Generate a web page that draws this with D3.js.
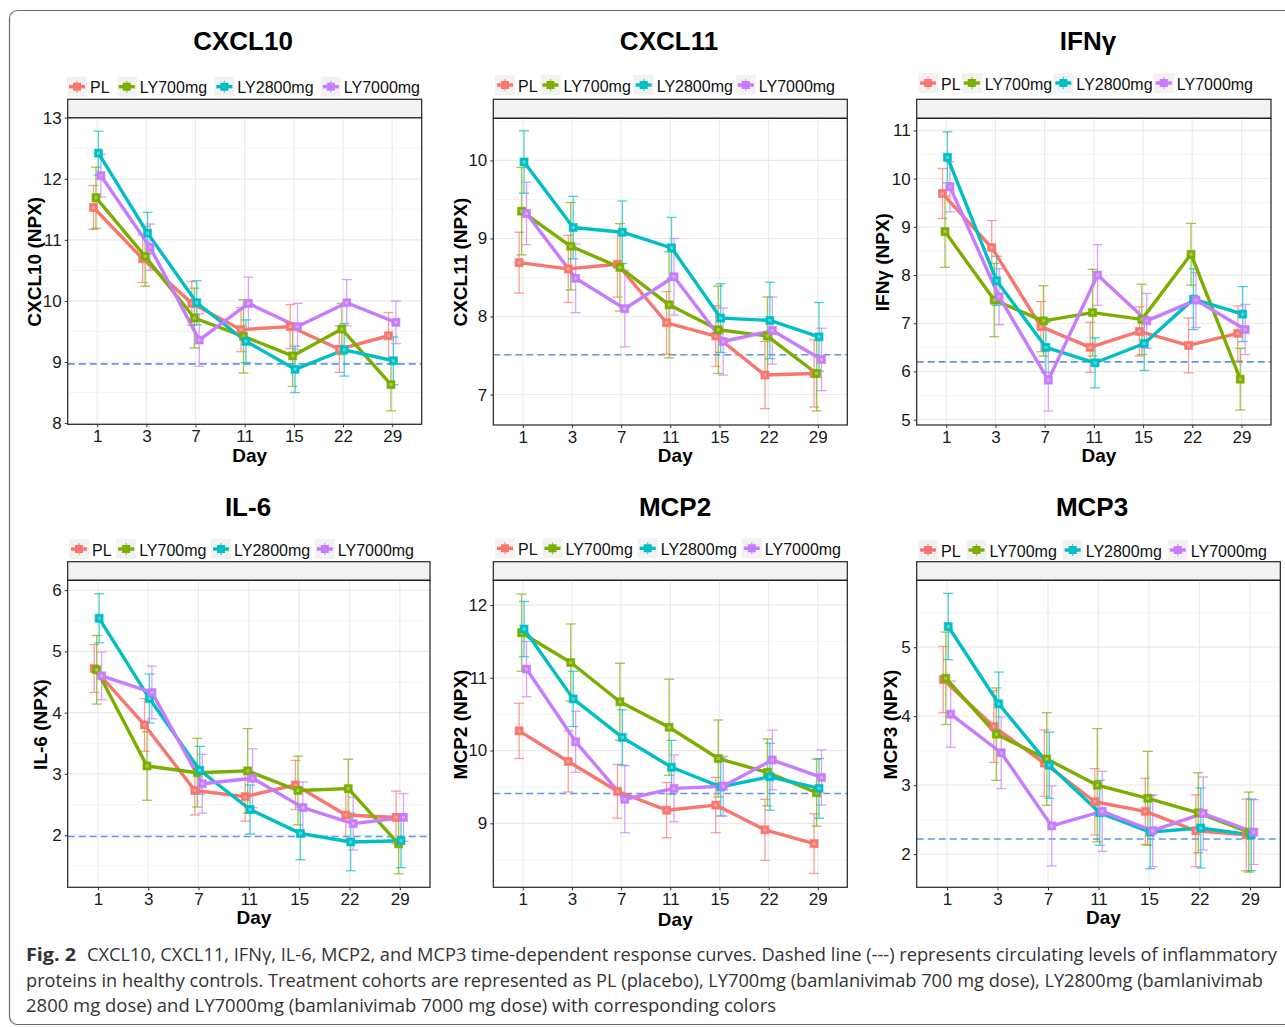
<!DOCTYPE html>
<html>
<head>
<meta charset="utf-8">
<script src="https://cdn.jsdelivr.net/npm/d3@7"></script>
<style>
  body { margin: 0; background: #fff; }
  svg { display: block; font-family: "Liberation Sans", Arial, sans-serif; }
</style>
</head>
<body>
<svg id="chart" width="1285" height="1027"></svg>
<script>
const days = ['1', '3', '7', '11', '15', '22', '29'];
const groups = ['PL', 'LY700mg', 'LY2800mg', 'LY7000mg'];
const groupColors = ['#F8766D', '#7CAE00', '#00BFC4', '#C77CFF'];

// rows: PL, LY700mg, LY2800mg, LY7000mg
const cxcl10Mean = [
    [11.53, 10.69, 9.96, 9.53, 9.58, 9.21, 9.43],
    [11.69, 10.73, 9.72, 9.42, 9.10, 9.54, 8.63],
    [12.42, 11.11, 9.97, 9.34, 8.88, 9.20, 9.02],
    [12.05, 10.88, 9.36, 9.96, 9.58, 9.97, 9.65]];
const cxcl10Err = [
    [0.36, 0.39, 0.36, 0.36, 0.36, 0.38, 0.38],
    [0.50, 0.49, 0.49, 0.60, 0.50, 0.42, 0.43],
    [0.36, 0.34, 0.36, 0.35, 0.38, 0.43, 0.39],
    [0.35, 0.38, 0.43, 0.43, 0.38, 0.38, 0.35]];

const cxcl11Mean = [
    [8.69, 8.61, 8.67, 7.92, 7.75, 7.25, 7.27],
    [9.35, 8.90, 8.63, 8.15, 7.83, 7.75, 7.27],
    [9.98, 9.14, 9.08, 8.88, 7.98, 7.95, 7.74],
    [9.32, 8.49, 8.10, 8.51, 7.68, 7.82, 7.45]];
const cxcl11Err = [
    [0.39, 0.43, 0.42, 0.40, 0.39, 0.43, 0.43],
    [0.56, 0.56, 0.56, 0.68, 0.56, 0.50, 0.48],
    [0.40, 0.40, 0.40, 0.39, 0.44, 0.49, 0.44],
    [0.40, 0.44, 0.49, 0.49, 0.43, 0.43, 0.40]];

const ifngMean = [
    [9.69, 8.57, 6.93, 6.50, 6.83, 6.54, 6.79],
    [8.90, 7.48, 7.05, 7.22, 7.08, 8.43, 5.84],
    [10.44, 7.88, 6.50, 6.18, 6.58, 7.50, 7.19],
    [9.83, 7.55, 5.82, 8.00, 7.05, 7.48, 6.87]];
const ifngErr = [
    [0.52, 0.56, 0.52, 0.52, 0.51, 0.57, 0.57],
    [0.74, 0.76, 0.73, 0.90, 0.73, 0.64, 0.64],
    [0.53, 0.51, 0.52, 0.52, 0.56, 0.63, 0.57],
    [0.52, 0.58, 0.64, 0.63, 0.57, 0.57, 0.52]];

const il6Mean = [
    [4.72, 3.80, 2.73, 2.63, 2.82, 2.33, 2.29],
    [4.70, 3.13, 3.02, 3.05, 2.73, 2.76, 1.86],
    [5.54, 4.23, 3.06, 2.42, 2.03, 1.89, 1.91],
    [4.60, 4.33, 2.84, 2.93, 2.45, 2.19, 2.29]];
const il6Err = [
    [0.39, 0.43, 0.40, 0.40, 0.40, 0.43, 0.43],
    [0.56, 0.56, 0.56, 0.69, 0.56, 0.48, 0.49],
    [0.40, 0.40, 0.39, 0.40, 0.43, 0.47, 0.44],
    [0.39, 0.43, 0.48, 0.48, 0.42, 0.43, 0.39]];

const mcp2Mean = [
    [10.27, 9.85, 9.44, 9.18, 9.25, 8.91, 8.72],
    [11.62, 11.21, 10.67, 10.32, 9.89, 9.70, 9.42],
    [11.67, 10.71, 10.18, 9.77, 9.50, 9.64, 9.48],
    [11.12, 10.12, 9.33, 9.48, 9.51, 9.87, 9.63]];
const mcp2Err = [
    [0.38, 0.42, 0.37, 0.38, 0.38, 0.42, 0.41],
    [0.53, 0.53, 0.53, 0.66, 0.53, 0.46, 0.46],
    [0.38, 0.38, 0.38, 0.37, 0.40, 0.46, 0.41],
    [0.38, 0.42, 0.46, 0.46, 0.41, 0.41, 0.38]];

const mcp3Mean = [
    [4.53, 3.85, 3.32, 2.76, 2.62, 2.34, 2.28],
    [4.55, 3.74, 3.38, 3.00, 2.81, 2.60, 2.32],
    [5.30, 4.18, 3.29, 2.60, 2.32, 2.38, 2.28],
    [4.03, 3.47, 2.41, 2.62, 2.34, 2.59, 2.32]];
const mcp3Err = [
    [0.48, 0.52, 0.48, 0.48, 0.48, 0.52, 0.52],
    [0.67, 0.67, 0.67, 0.82, 0.68, 0.58, 0.58],
    [0.48, 0.46, 0.48, 0.47, 0.53, 0.58, 0.52],
    [0.48, 0.52, 0.58, 0.58, 0.52, 0.53, 0.47]];

const titles = ['CXCL10', 'CXCL11', 'IFNγ', 'IL-6', 'MCP2', 'MCP3'];
const yLabels = ['CXCL10 (NPX)', 'CXCL11 (NPX)', 'IFNγ (NPX)', 'IL-6 (NPX)', 'MCP2 (NPX)', 'MCP3 (NPX)'];
const healthyLevels = [8.97, 7.51, 6.20, 1.98, 9.41, 2.22];
const yTicks = [
    [8, 9, 10, 11, 12, 13],
    [7, 8, 9, 10],
    [5, 6, 7, 8, 9, 10, 11],
    [2, 3, 4, 5, 6],
    [9, 10, 11, 12],
    [2, 3, 4, 5]];
const means = [cxcl10Mean, cxcl11Mean, ifngMean, il6Mean, mcp2Mean, mcp3Mean];
const errs = [cxcl10Err, cxcl11Err, ifngErr, il6Err, mcp2Err, mcp3Err];

const captionLines = [
    'CXCL10, CXCL11, IFNγ, IL-6, MCP2, and MCP3 time-dependent response curves. Dashed line (---) represents circulating levels of inflammatory',
    'proteins in healthy controls. Treatment cohorts are represented as PL (placebo), LY700mg (bamlanivimab 700 mg dose), LY2800mg (bamlanivimab',
    '2800 mg dose) and LY7000mg (bamlanivimab 7000 mg dose) with corresponding colors'
];

// panel geometry (plot area, strip top, y domain, legend span, title / label positions)
const layout = [
    { x0: 67.7, x1: 421.7, y0: 117.7, y1: 424.3, strip: 99.3, dom: [7.98, 13.0],
      leg: [67, 420, 86.7], title: [243, 50], yl: 34, day: 462 },
    { x0: 493.3, x1: 847.3, y0: 118.3, y1: 425, strip: 99.3, dom: [6.61, 10.54],
      leg: [495, 835, 85], title: [669, 50], yl: 460, day: 462 },
    { x0: 916.7, x1: 1271, y0: 118.3, y1: 425, strip: 99.3, dom: [4.89, 11.25],
      leg: [918, 1253, 83], title: [1088, 50], yl: 882, day: 462 },
    { x0: 67.7, x1: 430, y0: 580.3, y1: 887.3, strip: 561.7, dom: [1.15, 6.16],
      leg: [69, 414, 549], title: [248, 516], yl: 40, day: 924 },
    { x0: 493.3, x1: 847.3, y0: 580.3, y1: 887.3, strip: 561.7, dom: [8.12, 12.34],
      leg: [495, 841, 548.3], title: [675, 516], yl: 460, day: 926 },
    { x0: 916.7, x1: 1280.3, y0: 580.3, y1: 887.3, strip: 561.7, dom: [1.52, 5.97],
      leg: [918, 1267, 550], title: [1092, 516], yl: 890, day: 924 }
];

const svg = d3.select('#chart');
const arial = '"Liberation Sans", Arial, sans-serif';

// outer frame
svg.append('rect')
    .attr('x', 9.5).attr('y', 10.5)
    .attr('width', 1320).attr('height', 1014)
    .attr('rx', 8)
    .attr('fill', 'none')
    .attr('stroke', '#6b6b6b')
    .attr('stroke-width', 1.2);

function drawPanel(i) {
    const L = layout[i];
    const g = svg.append('g');

    const x = d3.scalePoint().domain(days).range([L.x0, L.x1]).padding(0.6);
    const y = d3.scaleLinear().domain(L.dom).range([L.y1, L.y0]);
    const dodge = d3.scalePoint().domain(groups).range([-3.7, 3.7]);

    // title
    svg.append('text')
        .attr('x', L.title[0]).attr('y', L.title[1])
        .attr('text-anchor', 'middle')
        .attr('font-size', 26).attr('font-weight', 'bold')
        .text(titles[i]);

    // strip
    g.append('rect')
        .attr('x', L.x0).attr('y', L.strip)
        .attr('width', L.x1 - L.x0).attr('height', L.y0 - L.strip)
        .attr('fill', '#f2f2f2').attr('stroke', '#222').attr('stroke-width', 1.2);

    // grid
    const ticks = yTicks[i];
    const minor = [];
    for (let t = ticks[0] - 0.5; t <= ticks[ticks.length - 1] + 0.5; t += 1) {
        if (t > L.dom[0] && t < L.dom[1]) minor.push(t);
    }
    g.selectAll('.minor').data(minor).enter().append('line')
        .attr('x1', L.x0).attr('x2', L.x1)
        .attr('y1', d => y(d)).attr('y2', d => y(d))
        .attr('stroke', '#f2f2f2').attr('stroke-width', 0.8);
    g.selectAll('.major').data(ticks).enter().append('line')
        .attr('x1', L.x0).attr('x2', L.x1)
        .attr('y1', d => y(d)).attr('y2', d => y(d))
        .attr('stroke', '#ebebeb').attr('stroke-width', 1.2);
    g.selectAll('.vgrid').data(days).enter().append('line')
        .attr('x1', d => x(d)).attr('x2', d => x(d))
        .attr('y1', L.y0).attr('y2', L.y1)
        .attr('stroke', '#ebebeb').attr('stroke-width', 1.2);

    // healthy controls
    g.append('line')
        .attr('x1', L.x0).attr('x2', L.x1)
        .attr('y1', y(healthyLevels[i])).attr('y2', y(healthyLevels[i]))
        .attr('stroke', '#6495ED').attr('stroke-width', 1.6)
        .attr('stroke-dasharray', '7,4');

    const m = means[i], e = errs[i];

    // error bars
    groups.forEach((grp, k) => {
        const eg = g.append('g')
            .attr('stroke', groupColors[k]).attr('stroke-opacity', 0.7)
            .attr('stroke-width', 1.3).attr('fill', 'none');
        days.forEach((d, j) => {
            const cx = x(d) + dodge(grp);
            const hi = y(m[k][j] + e[k][j]);
            const lo = y(m[k][j] - e[k][j]);
            eg.append('line').attr('x1', cx).attr('x2', cx).attr('y1', hi).attr('y2', lo);
            eg.append('line').attr('x1', cx - 5).attr('x2', cx + 5).attr('y1', hi).attr('y2', hi);
            eg.append('line').attr('x1', cx - 5).attr('x2', cx + 5).attr('y1', lo).attr('y2', lo);
        });
    });

    // lines
    const line = d3.line()
        .x((d, j) => x(days[j]) + d.off)
        .y(d => y(d.v));
    groups.forEach((grp, k) => {
        const pts = m[k].map(v => ({ v, off: dodge(grp) }));
        g.append('path')
            .datum(pts)
            .attr('d', line)
            .attr('fill', 'none')
            .attr('stroke', groupColors[k])
            .attr('stroke-width', 3.4)
            .attr('stroke-linejoin', 'round');
    });

    // points
    groups.forEach((grp, k) => {
        g.selectAll('.pt' + k).data(m[k]).enter().append('rect')
            .attr('x', (v, j) => x(days[j]) + dodge(grp) - 4)
            .attr('y', v => y(v) - 4)
            .attr('width', 8).attr('height', 8)
            .attr('fill', groupColors[k])
            .attr('stroke', groupColors[k]).attr('stroke-opacity', 0.6);
        g.selectAll('.pc' + k).data(m[k]).enter().append('rect')
            .attr('x', (v, j) => x(days[j]) + dodge(grp) - 1.5)
            .attr('y', v => y(v) - 1.5)
            .attr('width', 3).attr('height', 3)
            .attr('fill', '#fff').attr('fill-opacity', 0.35);
    });

    // panel border
    g.append('rect')
        .attr('x', L.x0).attr('y', L.y0)
        .attr('width', L.x1 - L.x0).attr('height', L.y1 - L.y0)
        .attr('fill', 'none').attr('stroke', '#222').attr('stroke-width', 1.2);

    // axes
    const ax = g.append('g')
        .attr('transform', `translate(0,${L.y1})`)
        .call(d3.axisBottom(x).tickSize(3).tickPadding(3));
    const ay = g.append('g')
        .attr('transform', `translate(${L.x0},0)`)
        .call(d3.axisLeft(y).tickValues(ticks).tickFormat(d3.format('d')).tickSize(3).tickPadding(3));
    [ax, ay].forEach(a => {
        a.select('.domain').remove();
        a.selectAll('line').attr('stroke', '#333');
        a.selectAll('text')
            .style('font-family', arial)
            .style('font-size', '17px')
            .attr('fill', '#1a1a1a');
    });

    // axis titles
    svg.append('text')
        .attr('x', (L.x0 + L.x1) / 2 + 5).attr('y', L.day)
        .attr('text-anchor', 'middle')
        .attr('font-size', 19).attr('font-weight', 'bold')
        .text('Day');
    svg.append('text')
        .attr('transform', `translate(${L.yl},${(L.strip + L.y1) / 2}) rotate(-90)`)
        .attr('text-anchor', 'middle')
        .attr('dominant-baseline', 'central')
        .attr('font-size', 19).attr('font-weight', 'bold')
        .text(yLabels[i]);

    // legend
    const lg = svg.append('g');
    const items = groups.map((grp, k) => {
        const it = lg.append('g');
        const t = it.append('text')
            .attr('font-size', 16).attr('fill', '#111')
            .attr('dominant-baseline', 'central')
            .text(grp);
        return { it, t, w: t.node().getComputedTextLength(), k };
    });
    const used = d3.sum(items, d => 20 + 3 + d.w);
    const gap = (L.leg[1] - L.leg[0] - used) / (groups.length - 1);
    let cx = L.leg[0];
    const cy = L.leg[2];
    items.forEach(d => {
        const col = groupColors[d.k];
        d.it.insert('rect', 'text')
            .attr('x', cx).attr('y', cy - 10).attr('width', 20).attr('height', 20)
            .attr('fill', '#f2f2f2');
        d.it.insert('line', 'text')
            .attr('x1', cx + 2).attr('x2', cx + 18).attr('y1', cy).attr('y2', cy)
            .attr('stroke', col).attr('stroke-width', 3.4);
        d.it.insert('line', 'text')
            .attr('x1', cx + 10).attr('x2', cx + 10).attr('y1', cy - 6).attr('y2', cy + 6)
            .attr('stroke', col).attr('stroke-opacity', 0.7).attr('stroke-width', 1.3);
        d.it.insert('rect', 'text')
            .attr('x', cx + 6).attr('y', cy - 4).attr('width', 8).attr('height', 8)
            .attr('fill', col);
        d.t.attr('x', cx + 23).attr('y', cy + 1);
        cx += 23 + d.w + gap;
    });
}

layout.forEach((_, i) => drawPanel(i));

// caption
const capFont = '"Open Sans", "Noto Sans", sans-serif';
const capEnds = [1277, 1263, 776];
const capY = [961, 987, 1012];
svg.append('text')
    .attr('x', 26).attr('y', capY[0])
    .attr('font-family', capFont).attr('font-size', 18).attr('font-weight', 'bold')
    .attr('fill', '#333')
    .attr('textLength', 50).attr('lengthAdjust', 'spacingAndGlyphs')
    .text('Fig. 2');
captionLines.forEach((s, i) => {
    const x0 = i === 0 ? 87 : 26;
    svg.append('text')
        .attr('x', x0).attr('y', capY[i])
        .attr('font-family', capFont).attr('font-size', 18)
        .attr('fill', '#333')
        .attr('textLength', capEnds[i] - x0).attr('lengthAdjust', 'spacingAndGlyphs')
        .text(s);
});
</script>
</body>
</html>
